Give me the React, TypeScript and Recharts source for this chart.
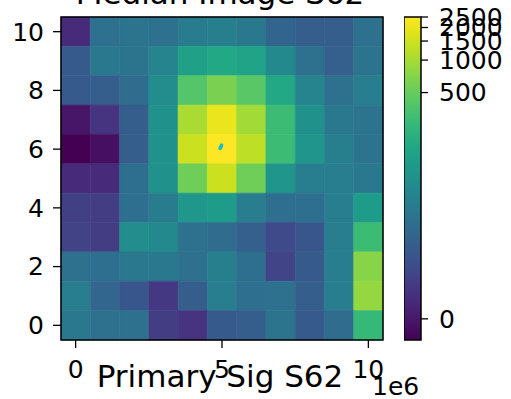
import { ScatterChart, Scatter, XAxis, YAxis, ReferenceArea } from 'recharts'

// pixel centres of the image cells (x in raw units, shown with a 1e6 offset)
const xCentres = [0, 1e6, 2e6, 3e6, 4e6, 5e6, 6e6, 7e6, 8e6, 9e6, 10e6]
const yCentres = [10, 9, 8, 7, 6, 5, 4, 3, 2, 1, 0]

// median image values, one row per y (top row first)
const row10 = [1.9, 29, 32, 29, 40, 46, 37, 20, 16, 16, 29]
const row9 = [14, 37, 32, 54, 128, 158, 137, 62, 29, 17, 32]
const row8 = [14, 16, 25, 67, 390, 632, 418, 158, 54, 29, 43]
const row7 = [-0.2, 3.3, 16, 77, 1024, 2036, 956, 276, 77, 37, 32]
const row6 = [-1.5, -0.7, 16, 77, 1444, 2500, 1259, 276, 89, 46, 32]
const row5 = [1.9, 1.9, 27, 77, 551, 1444, 551, 89, 43, 43, 37]
const row4 = [5.5, 5, 27, 40, 95, 111, 43, 27, 27, 43, 111]
const row3 = [6, 5, 67, 62, 29, 25, 17, 8, 12, 43, 276]
const row2 = [29, 27, 37, 37, 29, 46, 27, 6.3, 14, 43, 730]
const row1 = [43, 21, 12, 4, 16, 43, 27, 29, 16, 43, 830]
const row0 = [37, 29, 29, 5, 3.3, 14, 16, 32, 14, 25, 250]
const medianRows = [row10, row9, row8, row7, row6, row5, row4, row3, row2, row1, row0]

const markerPoints = [{ x: 4.96e6, y: 6.08 }]

const xTicks = [0, 5e6, 10e6]
const yTicks = [0, 2, 4, 6, 8, 10]
const cbarTicks = [0, 500, 1000, 1500, 2000, 2500]

// log-like norm
const VMIN = -1.5
const VMAX = 2500
const OFFSET = 4.15
const norm = (v: number) => {
  const lo = Math.log(VMIN + OFFSET)
  const hi = Math.log(VMAX + OFFSET)
  const f = (Math.log(Math.max(v + OFFSET, 1e-9)) - lo) / (hi - lo)
  return Math.min(1, Math.max(0, f))
}

const viridis = [
  '#440154', '#471365', '#482475', '#463480', '#414487', '#3b528b', '#355f8d',
  '#2f6c8e', '#2a788e', '#25848e', '#21918c', '#1e9c89', '#22a884', '#2fb47c',
  '#44bf70', '#5ec962', '#7ad151', '#9bd93c', '#bddf26', '#dfe318', '#fde725',
]

const hex = (c: string) => [1, 3, 5].map((i) => parseInt(c.slice(i, i + 2), 16))
const colourAt = (f: number) => {
  const p = f * (viridis.length - 1)
  const i = Math.min(viridis.length - 2, Math.floor(p))
  const t = p - i
  const a = hex(viridis[i])
  const b = hex(viridis[i + 1])
  const c = a.map((v, k) => Math.round(v + (b[k] - v) * t))
  return `rgb(${c[0]},${c[1]},${c[2]})`
}

const font = 'DejaVu Sans, sans-serif'
const tickFont = 25
const tick = { fontSize: tickFont, fill: '#000', fontFamily: font }
const tickLine = { stroke: '#000', strokeWidth: 1.3 }

const Marker = (props: any) => {
  const { cx, cy } = props
  return <ellipse cx={cx} cy={cy} rx={2} ry={3.6} fill="#17becf" transform={`rotate(25 ${cx} ${cy})`} />
}

const NoMark = () => <g />

export default function App() {
  return (
    <div style={{ position: 'absolute', left: 0, top: 0, width: 511, height: 399, background: '#fff', fontFamily: font }}>
      <ScatterChart width={511} height={399} margin={{ top: 17, right: 128, left: 0, bottom: 0 }}>
        <XAxis
          type="number"
          dataKey="x"
          domain={[-0.5e6, 10.5e6]}
          ticks={xTicks}
          tickFormatter={(v: number) => String(v / 1e6)}
          allowDataOverflow
          axisLine={false}
          tickLine={tickLine}
          tickSize={8}
          tickMargin={12}
          tick={tick}
          fontSize={tickFont}
          height={59}
          interval={0}
        />
        <YAxis
          type="number"
          dataKey="y"
          domain={[-0.5, 10.5]}
          ticks={yTicks}
          allowDataOverflow
          axisLine={false}
          tickLine={tickLine}
          tickSize={8}
          tickMargin={9}
          tick={tick}
          fontSize={tickFont}
          width={61}
          interval={0}
        />
        {medianRows.map((row, r) =>
          row.map((v, c) => {
            const col = colourAt(norm(v))
            return (
              <ReferenceArea
                key={`${r}-${c}`}
                x1={xCentres[c] - 0.5e6}
                x2={xCentres[c] + 0.5e6}
                y1={yCentres[r] - 0.5}
                y2={yCentres[r] + 0.5}
                fill={col}
                fillOpacity={1}
                stroke={col}
                strokeWidth={0.6}
                ifOverflow="visible"
              />
            )
          })
        )}
        <ReferenceArea
          x1={-0.5e6}
          x2={10.5e6}
          y1={-0.5}
          y2={10.5}
          fill="none"
          stroke="#000"
          strokeWidth={1.5}
          ifOverflow="visible"
        />
        <Scatter data={markerPoints} shape={<Marker />} isAnimationActive={false} />
      </ScatterChart>

      <div style={{ position: 'absolute', left: 404, top: 0 }}>
        <ScatterChart width={107} height={399} margin={{ top: 17, right: 0, left: 0, bottom: 59 }}>
          <defs>
            <linearGradient id="viridisBar" x1="0" y1="1" x2="0" y2="0">
              {viridis.map((c, i) => (
                <stop key={c} offset={i / (viridis.length - 1)} stopColor={c} />
              ))}
            </linearGradient>
          </defs>
          <XAxis type="number" dataKey="x" domain={[0, 1]} hide />
          <YAxis
            type="number"
            dataKey="y"
            orientation="right"
            domain={[0, 1]}
            ticks={cbarTicks.map(norm)}
            tickFormatter={(f: number) => {
              const t = cbarTicks.find((v) => Math.abs(norm(v) - f) < 1e-6)
              return t === undefined ? '' : String(t)
            }}
            axisLine={false}
            tickLine={tickLine}
            tickSize={7}
            tickMargin={11}
            tick={tick}
            fontSize={tickFont}
            width={90}
            interval={0}
          />
          <ReferenceArea
            x1={0}
            x2={1}
            y1={0}
            y2={1}
            fill="url(#viridisBar)"
            fillOpacity={1}
            stroke="#000"
            strokeWidth={1.5}
            ifOverflow="visible"
          />
          <Scatter data={[{ x: 0.5, y: 0.5 }]} shape={<NoMark />} isAnimationActive={false} />
        </ScatterChart>
      </div>

      <svg width={511} height={399} style={{ position: 'absolute', left: 0, top: 0, pointerEvents: 'none' }}>
        <text x={220} y={4} textAnchor="middle" fontSize={31} fontFamily={font} fill="#000">
          Median Image S62
        </text>
        <text x={220} y={387} textAnchor="middle" fontSize={31} fontFamily={font} fill="#000">
          Primary Sig S62
        </text>
        <text x={372} y={395} fontSize={tickFont} fontFamily={font} fill="#000">
          1e6
        </text>
      </svg>
    </div>
  )
}
